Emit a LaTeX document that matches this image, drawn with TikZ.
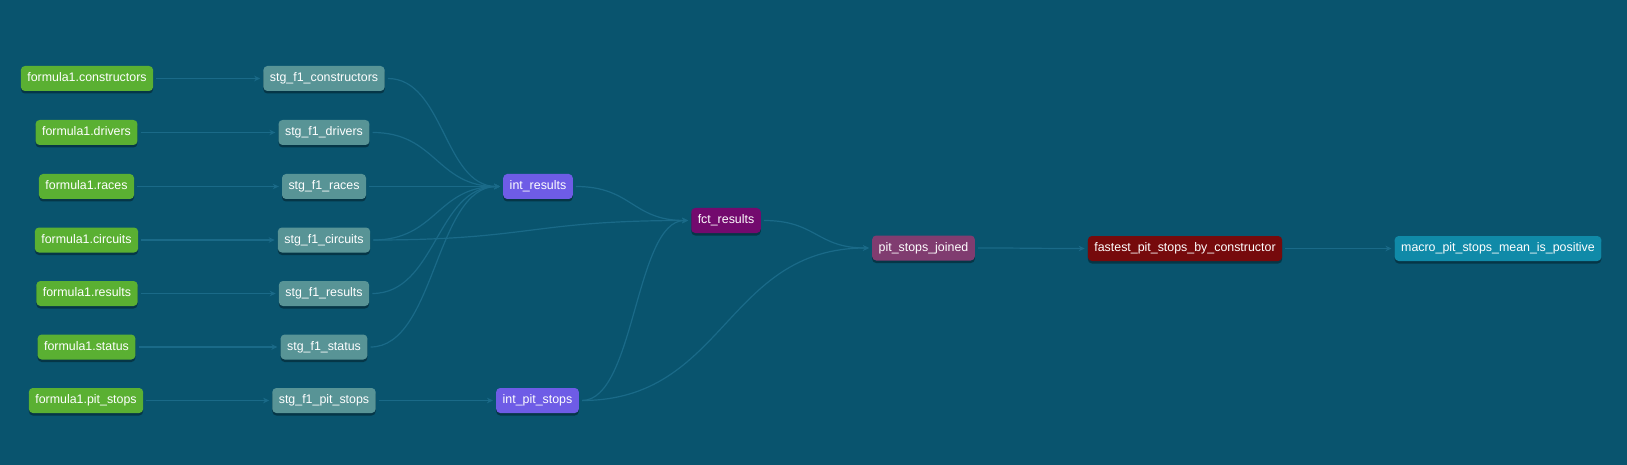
\documentclass[tikz,border=0pt]{standalone}
\usepackage{fontspec}
\setmainfont{Liberation Sans}
\usetikzlibrary{arrows.meta,shadows,calc}
\definecolor{bgc}{HTML}{09546E}
\definecolor{edgec}{HTML}{1A6A88}
\definecolor{srcc}{HTML}{5AB032}
\definecolor{stgc}{HTML}{589496}
\definecolor{intc}{HTML}{6E5CE6}
\definecolor{fctc}{HTML}{730A6E}
\definecolor{psjc}{HTML}{803C70}
\definecolor{fstc}{HTML}{760A0C}
\definecolor{macc}{HTML}{108AA8}
\begin{document}
\begin{tikzpicture}[x=1pt,y=-1pt,
  box/.style={rounded corners=4pt, text=white, font=\fontsize{12.4}{14}\selectfont,
    inner xsep=6.5pt, inner ysep=0pt, minimum height=25pt, text height=9pt, text depth=2.5pt,
    drop shadow={shadow xshift=0pt,shadow yshift=-2.5pt,opacity=0.35,fill=black}},
  src/.style={box, fill=srcc},
  stg/.style={box, fill=stgc},
  intm/.style={box, fill=intc},
  fct/.style={box, fill=fctc},
  psj/.style={box, fill=psjc},
  fst/.style={box, fill=fstc},
  mac/.style={box, fill=macc},
  edge/.style={draw=edgec, line width=1.2pt, -{Stealth[length=6pt,width=5.5pt]},
    shorten <=3pt, shorten >=3pt},
  flow/.style={to path={let \p1=(\tikztostart), \p2=(\tikztotarget) in
    .. controls ({0.5*\x1+0.5*\x2},\y1) and ({0.5*\x1+0.5*\x2},\y2) .. (\tikztotarget) \tikztonodes}}
]
\useasboundingbox (0,0) rectangle (1627,465);
\fill[bgc] (0,0) rectangle (1627,465);

% sources
\node[src] (fcons) at (87,78.5) {formula1.constructors};
\node[src] (fdrv)  at (86.5,132.5) {formula1.drivers};
\node[src] (frac)  at (86.5,186.5) {formula1.races};
\node[src] (fcir)  at (86.5,240) {formula1.circuits};
\node[src] (fres)  at (87,293.5) {formula1.results};
\node[src] (fsta)  at (86.5,347) {formula1.status};
\node[src] (fpit)  at (86,400.5) {formula1.pit\_stops};

% staging
\node[stg] (scons) at (324,78.5) {stg\_f1\_constructors};
\node[stg] (sdrv)  at (324,132.5) {stg\_f1\_drivers};
\node[stg] (srac)  at (324,186.5) {stg\_f1\_races};
\node[stg] (scir)  at (324,240) {stg\_f1\_circuits};
\node[stg] (sres)  at (324,293.5) {stg\_f1\_results};
\node[stg] (ssta)  at (324,347) {stg\_f1\_status};
\node[stg] (spit)  at (324,400.5) {stg\_f1\_pit\_stops};

% intermediate
\node[intm] (ires) at (538,186.5) {int\_results};
\node[intm] (ipit) at (537.5,400.5) {int\_pit\_stops};

% marts
\node[fct] (fct) at (726,220.5) {fct\_results};
\node[psj] (psj) at (923.5,248) {pit\_stops\_joined};
\node[fst] (fst) at (1185,248.5) {fastest\_pit\_stops\_by\_constructor};
\node[mac] (mac) at (1498,248.5) {macro\_pit\_stops\_mean\_is\_positive};

% edges
\draw[edge] (fcons.east) to[flow] (scons.west);
\draw[edge] (fdrv.east) to[flow] (sdrv.west);
\draw[edge] (frac.east) to[flow] (srac.west);
\draw[edge] (fcir.east) to[flow] (scir.west);
\draw[edge] (fres.east) to[flow] (sres.west);
\draw[edge] (fsta.east) to[flow] (ssta.west);
\draw[edge] (fpit.east) to[flow] (spit.west);

\draw[edge] (scons.east) to[flow] (ires.west);
\draw[edge] (sdrv.east) to[flow] (ires.west);
\draw[edge] (srac.east) to[flow] (ires.west);
\draw[edge] (scir.east) to[flow] (ires.west);
\draw[edge] (sres.east) to[flow] (ires.west);
\draw[edge] (ssta.east) to[flow] (ires.west);
\draw[edge] (spit.east) to[flow] (ipit.west);

\draw[edge] (ires.east) to[flow] (fct.west);
\draw[edge] (scir.east) to[flow] (fct.west);
\draw[edge] (ipit.east) to[flow] (fct.west);
\draw[edge] (fct.east) to[flow] (psj.west);
\draw[edge] (ipit.east) to[flow] (psj.west);
\draw[edge] (psj.east) to[flow] (fst.west);
\draw[edge] (fst.east) to[flow] (mac.west);
\end{tikzpicture}
\end{document}
